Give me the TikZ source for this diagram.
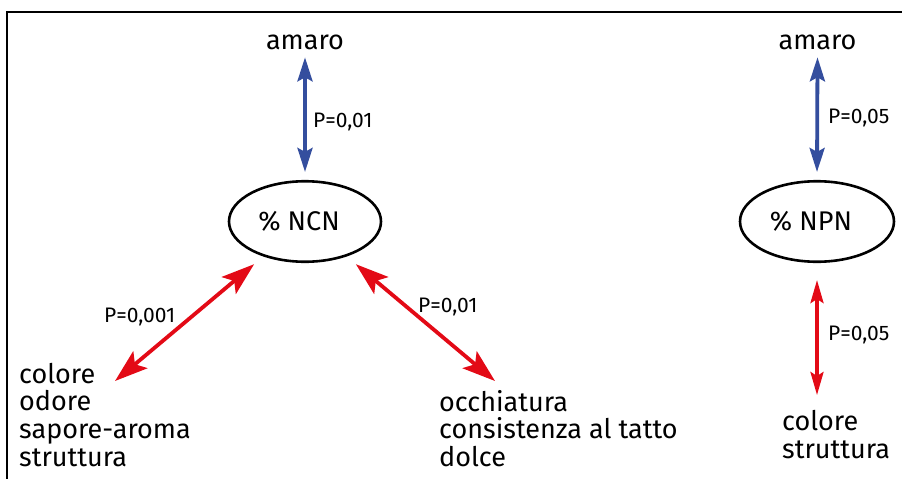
\documentclass[tikz,border=0pt]{standalone}
\usepackage{fontspec}
\setmainfont{Fira Sans}
\usetikzlibrary{arrows.meta,shapes.geometric}
\definecolor{arrblue}{RGB}{52,78,158}
\definecolor{arrred}{RGB}{227,10,22}
\begin{document}
\begin{tikzpicture}[x=1pt,y=-1pt,
  txt/.style={font=\fontsize{27}{27.6}\selectfont, inner sep=0pt, align=left},
  plab/.style={font=\fontsize{21}{22}\selectfont, inner sep=0pt, anchor=base west},
  oval/.style={ellipse, draw, line width=2.6pt, minimum width=152pt, minimum height=80.5pt, inner sep=0pt,
    font=\fontsize{27}{27.5}\selectfont},
  bluearr/.style={draw=arrblue, line width=3.8pt,
    {Stealth[length=24pt,width=15pt,inset=4pt]}-{Stealth[length=24pt,width=15pt,inset=4pt]}},
  redarr/.style={draw=arrred, line width=3.8pt,
    {Stealth[length=33pt,width=22pt,inset=7pt]}-{Stealth[length=33pt,width=22pt,inset=7pt]}},
  redv/.style={draw=arrred, line width=3.4pt,
    {Stealth[length=23pt,width=13pt,inset=4pt]}-{Stealth[length=23pt,width=13pt,inset=4pt]}}
]
\useasboundingbox (0,0) rectangle (902,479);
% frame
\draw[line width=1.5pt] (7,479) -- (7,12) -- (902,12);

% left group
\node[txt, anchor=base] (amaroA) at (305,49.3) {amaro};
\node[oval] (ncn) at (305,221.5) {\raisebox{1pt}{\hspace*{-12pt}\% NCN}};
\node[txt, anchor=base west] (leftT) at (19,466) {colore\\odore\\sapore-aroma\\struttura};
\node[txt, anchor=base west] (midT) at (439,466.5) {occhiatura\\consistenza al tatto\\dolce};
\coordinate (tl) at (115,381);
\coordinate (tr) at (495,381);

\draw[bluearr] ([yshift=-8pt]amaroA.base) -- ([yshift=8pt]ncn.north);
\draw[redarr, shorten <=12pt] (ncn) -- (tl);
\draw[redarr, shorten <=12pt] (ncn) -- (tr);

\node[plab] (p1) at (313,127.7) {P=0,01};
\node[plab] (p2) at (104,322.7) {P=0,001};
\node[plab] (p3) at (418,312.7) {P=0,01};

% right group
\node[txt, anchor=base] (amaroB) at (817.5,49.3) {amaro};
\node[oval, minimum width=154pt] (npn) at (817,221.5) {\raisebox{1pt}{\hspace*{-12pt}\% NPN}};
\node[txt, anchor=base west] (rightT) at (782,458.5) {colore\\struttura};
\coordinate (rb) at (817,395);

\draw[bluearr] ([yshift=-8pt]amaroB.base) -- ([yshift=8pt]npn.north);
\draw[redv] ([yshift=-17pt]npn.south) -- (rb);

\node[plab] (p4) at (828,123) {P=0,05};
\node[plab] (p5) at (828,340) {P=0,05};
\end{tikzpicture}
\end{document}
